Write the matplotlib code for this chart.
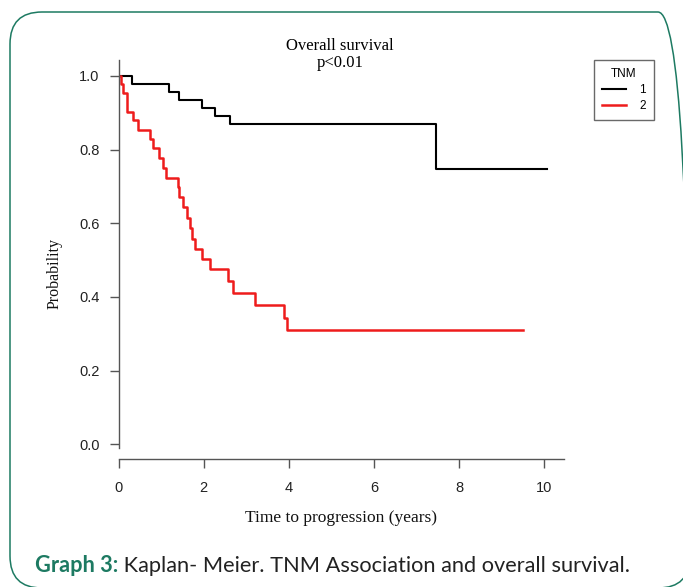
import matplotlib
matplotlib.use("Agg")
import matplotlib.pyplot as plt
from matplotlib.patches import FancyBboxPatch

# Kaplan-Meier steps: (time, survival after drop)
tnm1_times = [0, 0.32, 1.19, 1.42, 1.95, 2.27, 2.62, 7.45, 10.05]
tnm1_surv = [1.0, 0.978, 0.956, 0.935, 0.913, 0.891, 0.870, 0.746, 0.746]

tnm2_times = [0, 0.05, 0.10, 0.19, 0.35, 0.45, 0.74, 0.82, 0.96, 1.04, 1.12,
              1.40, 1.43, 1.51, 1.62, 1.68, 1.73, 1.79, 1.95, 2.16, 2.57,
              2.68, 3.20, 3.89, 3.95, 9.50]
tnm2_surv = [1.0, 0.977, 0.953, 0.903, 0.879, 0.854, 0.828, 0.803, 0.777,
             0.750, 0.724, 0.698, 0.672, 0.643, 0.613, 0.587, 0.557, 0.530,
             0.502, 0.475, 0.443, 0.411, 0.377, 0.343, 0.310, 0.310]

x_ticks = [0, 2, 4, 6, 8, 10]
y_ticks = [0.0, 0.2, 0.4, 0.6, 0.8, 1.0]
y_tick_labels = ["0.0", "0.2", "0.4", "0.6", "0.8", "1.0"]

W, H = 683, 587
fig = plt.figure(figsize=(W / 100, H / 100), dpi=100)
fig.patch.set_facecolor("white")

# rounded teal frame, runs off the right and bottom edges
frame = FancyBboxPatch((10, -1), 680, 576, boxstyle="round,pad=0,rounding_size=32",
                       transform=None, fc="none", ec="#1d7a62", lw=1.1)
fig.patches.append(frame)

ax = fig.add_axes([118.5 / W, (H - 459) / H, (564 - 118.5) / W, 399 / H])
ax.step(tnm1_times, tnm1_surv, where="post", color="black", lw=1.5, label="1")
ax.step(tnm2_times, tnm2_surv, where="post", color="#ee1c1c", lw=1.8, label="2")

ax.set_xlim(0, 10.46)
ax.set_ylim(-0.04, 1.043)
for s in ["top", "right"]:
    ax.spines[s].set_visible(False)
gray = "#555555"
for s in ["left", "bottom"]:
    ax.spines[s].set_color(gray)
    ax.spines[s].set_linewidth(1.0)
ax.spines["left"].set_bounds(-0.01, 1.043)

ax.set_xticks(x_ticks)
ax.set_yticks(y_ticks)
ax.set_yticklabels(y_tick_labels)
ax.tick_params(axis="both", color=gray, length=6.5, width=1.0, labelsize=10.5,
               labelcolor="#222222")
ax.tick_params(axis="y", pad=7)
ax.tick_params(axis="x", pad=9)
for lab in ax.get_xticklabels() + ax.get_yticklabels():
    lab.set_family("Liberation Sans")

serif = "Liberation Serif"
ax.set_xlabel("Time to progression (years)", family=serif, fontsize=12.5,
              labelpad=11, color="#111111")
ax.set_ylabel("Probability", family=serif, fontsize=11.5, labelpad=12,
              color="#111111")
ax.yaxis.label.set_y(0.466)

fig.text(340 / W, 1 - 46 / H, "Overall survival", family=serif, fontsize=12,
         ha="center", va="center")
fig.text(340 / W, 1 - 63 / H, "p<0.01", family=serif, fontsize=12,
         ha="center", va="center")

leg = fig.legend(loc="upper left", bbox_to_anchor=(594 / W, 1 - 60 / H),
                 title="TNM", fontsize=8.5, title_fontsize=8.5, frameon=True,
                 fancybox=False, edgecolor="#444444", handlelength=2.1,
                 borderpad=0.65, labelspacing=0.35, handletextpad=1.1,
                 borderaxespad=0)
leg.get_frame().set_linewidth(1.0)
for t in leg.get_texts():
    t.set_family("Liberation Sans")
leg.get_title().set_family("Liberation Sans")

# caption: bold teal lead-in followed by plain text, fitted to the reference width
cap_y = 1 - 566 / H
cap_fs = 14
lead = fig.text(35 / W, cap_y, "Graph 3:", family="Lato", fontsize=cap_fs,
                fontweight="bold", color="#1d7a62", ha="left", va="center")
rest = fig.text(0, cap_y, " Kaplan- Meier. TNM Association and overall survival.",
                family="Lato", fontsize=cap_fs, color="#222222", ha="left", va="center")
r = fig.canvas.get_renderer()
w_lead = lead.get_window_extent(r).width
w_rest = rest.get_window_extent(r).width
scale = (632 - 35) / (w_lead + w_rest)
lead.set_fontsize(cap_fs * scale)
rest.set_fontsize(cap_fs * scale)
w_lead = lead.get_window_extent(r).width
rest.set_x((35 + w_lead) / W)

fig.savefig("out.png", dpi=100)
